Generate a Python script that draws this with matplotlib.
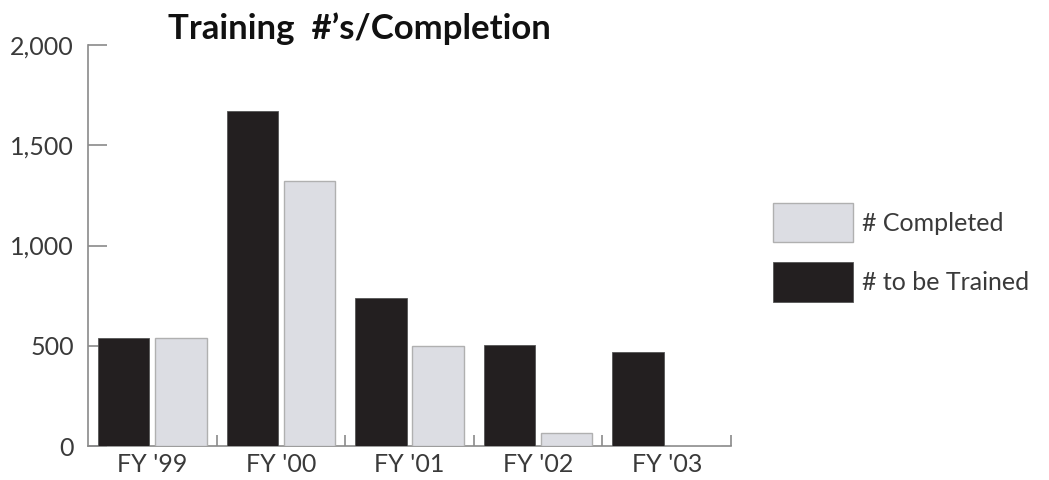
import numpy as np
import matplotlib.pyplot as plt

years = ["FY '99", "FY '00", "FY '01", "FY '02", "FY '03"]
to_be_trained = [540, 1670, 740, 505, 470]
completed = [540, 1320, 500, 65, 0]

dark = '#231f20'
light = '#dcdde3'
axis_col = '#8a8a8a'
text_col = '#3a3a3a'

plt.rcParams['font.family'] = ['Lato', 'DejaVu Sans']

fig = plt.figure(figsize=(10.49, 4.8), dpi=100)
ax = fig.add_axes([88 / 1049, 1 - 446 / 480, (731 - 88) / 1049, (446 - 45) / 480])

x = np.arange(len(years))
w = 0.40
gap = 0.045
ax.bar(x - w / 2 - gap / 2, to_be_trained, width=w, color=dark, edgecolor='#555555',
       linewidth=0.6, label='# to be Trained', zorder=3)
ax.bar(x + w / 2 + gap / 2, completed, width=w, color=light, edgecolor='#b0b0b0',
       linewidth=1.0, label='# Completed', zorder=3)

ax.set_xlim(-0.5, 4.5)
ax.set_ylim(0, 2000)

# spines
for s in ['top', 'right']:
    ax.spines[s].set_visible(False)
for s in ['left', 'bottom']:
    ax.spines[s].set_color(axis_col)
    ax.spines[s].set_linewidth(1.2)

ax.set_yticks([0, 500, 1000, 1500, 2000])
ax.set_yticklabels(['0', '500', '1,000', '1,500', '2,000'])
ax.tick_params(axis='y', direction='in', length=14, width=1.2, color=axis_col,
               labelsize=18, labelcolor=text_col, pad=10)

# category labels at centres, small ticks at group boundaries
ax.set_xticks(x)
ax.set_xticklabels(years)
ax.set_xticks(x + 0.5, minor=True)
ax.tick_params(axis='x', which='major', length=0, labelsize=18, labelcolor=text_col, pad=5)
ax.tick_params(axis='x', which='minor', direction='in', length=8, width=1.2, color=axis_col)

fig.text(0.343, 0.94, "Training  #\u2019s/Completion", ha='center', va='center',
         fontsize=25, fontweight='bold', color='#111111')

h, l = ax.get_legend_handles_labels()
fig.legend([h[1], h[0]], [l[1], l[0]], loc='upper left',
           bbox_to_anchor=(773 / 1049, 1 - 203 / 480), frameon=False,
           fontsize=18, handlelength=3.2, handleheight=2.05, labelspacing=0.8,
           handletextpad=0.35, borderpad=0, borderaxespad=0, labelcolor=text_col)

plt.savefig('out.png', dpi=100)
